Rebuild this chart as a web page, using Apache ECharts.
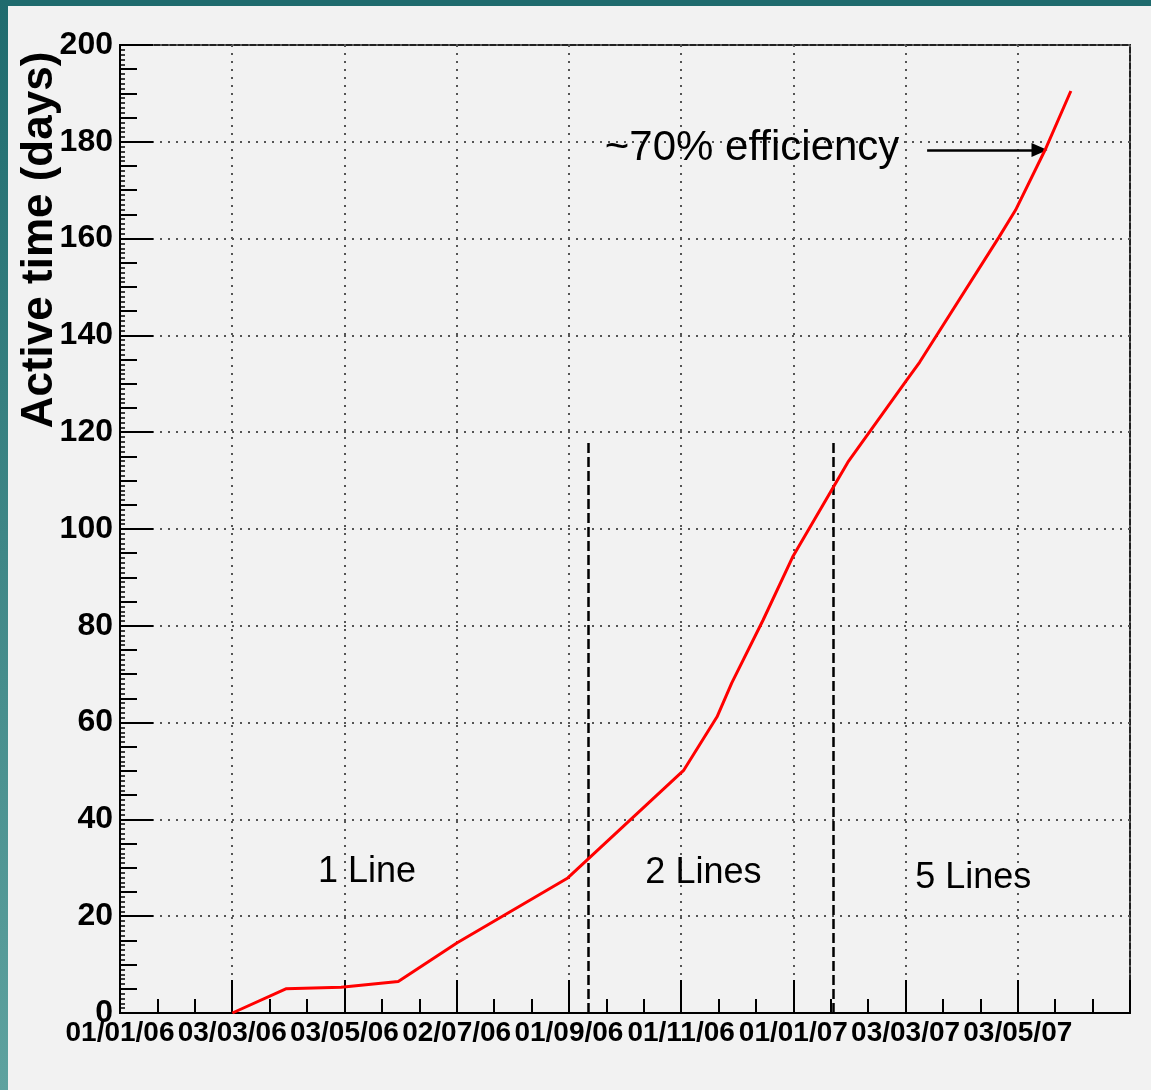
<!DOCTYPE html>
<html>
<head>
<meta charset="utf-8">
<script src="https://cdn.jsdelivr.net/npm/echarts@6/dist/echarts.min.js"></script>
<style>
  html, body { margin: 0; padding: 0; background: #f2f2f2; }
  #chart { width: 1151px; height: 1090px; }
</style>
</head>
<body>
<div id="chart"></div>
<script>
  // x axis is days since 01/01/06, ROOT style time axis with 9 divisions
  var startDate = '2006-01-01'
  var tickDays = 60.9
  var xTickLabels = ['01/01/06', '03/03/06', '03/05/06', '02/07/06', '01/09/06',
    '01/11/06', '01/01/07', '03/03/07', '03/05/07', '']

  var pointDates = ['2006-03-03', '2006-04-01', '2006-05-01', '2006-06-01', '2006-07-03',
    '2006-09-01', '2006-11-03', '2006-11-21', '2006-11-29', '2006-12-16', '2007-01-01',
    '2007-01-31', '2007-03-04', '2007-03-11', '2007-04-23', '2007-05-02', '2007-05-18', '2007-06-01']
  var activeDays = [0, 5, 5.3, 6.5, 14.5, 27.9, 50.2, 61.2, 68.2, 81.2, 94.2,
    113.8, 130.8, 134.5, 160.3, 165.9, 178.3, 190.5]

  // when the 2nd and 5th lines came in (dashed markers)
  var dividerDates = ['2006-09-12', '2007-01-23']
  var dividerTop = 117.8

  var phaseLabels = ['1 Line', '2 Lines', '5 Lines']
  var phaseDays = [134, 316.6, 463]
  var phaseValues = [29.1, 28.9, 27.9]

  var noteText = '~70% efficiency'
  var noteAt = [343, 178.7]
  var arrowFrom = [438, 178.3]
  var arrowTo = [499, 178.3]

  function dayOf(s) {
    return (Date.parse(s) - Date.parse(startDate)) / 86400000
  }

  var seriesData = []
  for (var i = 0; i < pointDates.length; i++) {
    seriesData.push([dayOf(pointDates[i]), activeDays[i]])
  }

  var markLines = []
  dividerDates.forEach(function (d) {
    var x = dayOf(d)
    markLines.push([
      {coord: [x, 0], symbol: 'none', lineStyle: {type: [10, 4], color: '#000', width: 2.5}},
      {coord: [x, dividerTop], symbol: 'none'}
    ])
  })
  markLines.push([
    {coord: arrowFrom, symbol: 'none', lineStyle: {type: 'solid', color: '#000', width: 2.5}},
    {coord: arrowTo, symbol: 'triangle', symbolSize: [14, 16]}
  ])

  var markPoints = []
  for (var j = 0; j < phaseLabels.length; j++) {
    markPoints.push({name: phaseLabels[j], coord: [phaseDays[j], phaseValues[j]]})
  }
  markPoints.push({name: noteText, coord: noteAt, label: {fontSize: 42}})

  var labelFont = {fontFamily: 'Liberation Sans', fontWeight: 'bold', color: '#000'}
  var black = {color: '#000', width: 2}
  var dotted = {type: [2, 6], color: '#555', width: 2}

  var chart = echarts.init(document.getElementById('chart'))
  chart.setOption({
    backgroundColor: '#f2f2f2',
    animation: false,
    grid: {
      left: 120, top: 45, right: 21, bottom: 77,
      show: true, borderColor: '#222', borderWidth: 2,
      containLabel: false, outerBoundsMode: 'none'
    },
    graphic: [
      {type: 'rect', shape: {x: 0, y: 0, width: 1151, height: 6}, style: {fill: '#1f6b6e'}},
      {
        type: 'rect', shape: {x: 0, y: 0, width: 8, height: 1090},
        style: {
          fill: new echarts.graphic.LinearGradient(0, 0, 0, 1, [
            {offset: 0, color: '#1f6b6e'}, {offset: 1, color: '#5ea29f'}
          ])
        }
      },
      {
        type: 'text', x: 40, y: 240, rotation: Math.PI / 2,
        style: {
          text: 'Active time (days)', font: 'bold 44px "Liberation Sans"', fill: '#000',
          textAlign: 'center', textVerticalAlign: 'middle', align: 'center', verticalAlign: 'middle'
        }
      }
    ],
    xAxis: {
      type: 'value', min: 0, max: 9 * tickDays, interval: tickDays,
      axisLine: {show: true, lineStyle: black},
      axisTick: {show: true, inside: true, length: 33, lineStyle: black},
      minorTick: {show: true, splitNumber: 3, length: 14, lineStyle: black},
      splitLine: {show: true, lineStyle: dotted},
      axisLabel: Object.assign({
        fontSize: 28, margin: 6, hideOverlap: false, showMinLabel: true, showMaxLabel: true,
        formatter: function (v) { return xTickLabels[Math.round(v / tickDays)] || '' }
      }, labelFont)
    },
    yAxis: [
      {
        type: 'value', min: 0, max: 200, interval: 20,
        axisLine: {show: true, lineStyle: black},
        axisTick: {show: true, inside: true, length: 33, lineStyle: black},
        minorTick: {show: true, splitNumber: 4, length: 17, lineStyle: black},
        splitLine: {show: true, lineStyle: dotted},
        axisLabel: Object.assign({fontSize: 32, margin: 7}, labelFont)
      },
      {
        type: 'value', min: 0, max: 200, interval: 1, position: 'left',
        axisLine: {show: false},
        axisTick: {show: true, inside: true, length: 5, lineStyle: {color: '#000', width: 1.5}},
        splitLine: {show: false},
        axisLabel: {show: false}
      }
    ],
    series: [
      {
        type: 'line',
        data: seriesData,
        symbol: 'none',
        lineStyle: {color: '#ff0000', width: 3},
        z: 5,
        markLine: {
          silent: true,
          symbol: 'none',
          label: {show: false},
          data: markLines
        },
        markPoint: {
          silent: true,
          symbol: 'circle',
          symbolSize: 1,
          itemStyle: {color: 'rgba(0,0,0,0)'},
          label: {
            show: true, position: 'inside', formatter: '{b}',
            color: '#000', fontSize: 36, fontFamily: 'Liberation Sans'
          },
          data: markPoints
        }
      }
    ]
  })
</script>
</body>
</html>
